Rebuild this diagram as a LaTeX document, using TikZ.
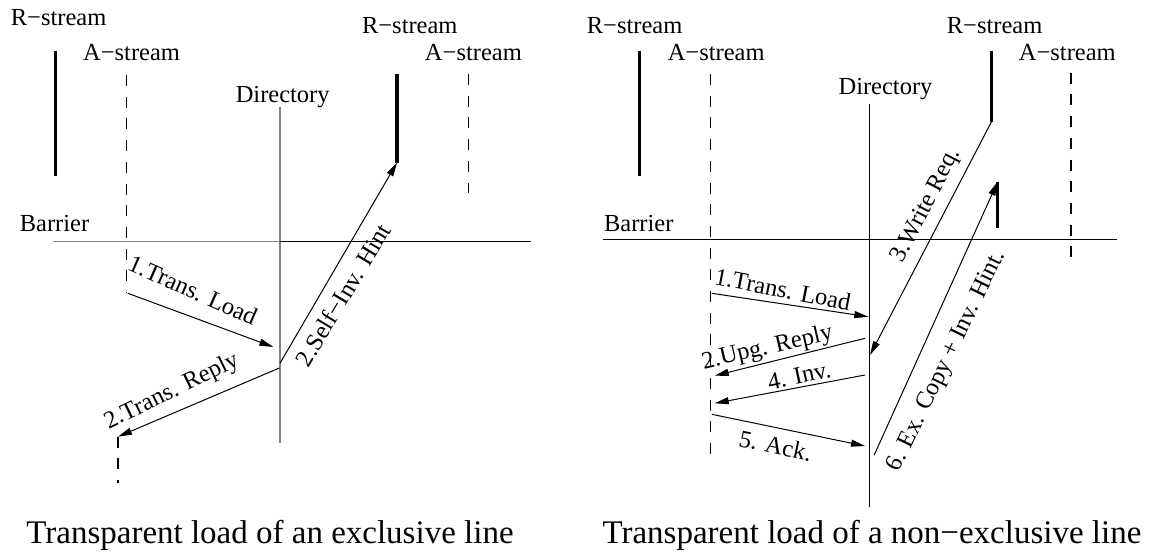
\documentclass[tikz,border=0pt]{standalone}
\usepackage{fontspec}
\setmainfont{Liberation Serif}
\usetikzlibrary{arrows.meta}
\tikzset{
  lbl/.style={font=\fontsize{24.5}{28}\selectfont, inner sep=0pt},
  captext/.style={font=\fontsize{33}{38}\selectfont, inner sep=0pt},
  life/.style={line width=1.2pt, dash pattern=on 11pt off 10.7pt},
  bar/.style={line width=3.5pt},
  msg/.style={line width=1pt, -{Triangle[length=14pt,width=7pt]}},
  dirline/.style={line width=1.2pt},
}
\begin{document}
\begin{tikzpicture}[x=1pt, y=-1pt]
\useasboundingbox (0,0) rectangle (1151,552);

% ---------------- exclusive line ----------------
\node[lbl] (lR1) at (58.6,17.5) {R−stream};
\node[lbl] (lA1) at (131.6,52.7) {A−stream};
\node[lbl] (lR2) at (409.8,26) {R−stream};
\node[lbl] (lA2) at (473.4,52.7) {A−stream};
\node[lbl] (lDir) at (282.7,97.3) {Directory};
\node[lbl] (lBar) at (54.5,223.3) {Barrier};

\coordinate (lR1top) at (55.4,50.7);
\coordinate (lR1bot) at (55.4,176);
\coordinate (lA1top) at (126.8,75);
\coordinate (lA1bot) at (126.8,293.3);
\coordinate (lA1low) at (118,436.7);
\coordinate (lA1end) at (118,483);
\coordinate (lR2top) at (397.1,74);
\coordinate (lR2bot) at (397.1,162.5);
\coordinate (lA2top) at (468.6,74);
\coordinate (lA2bot) at (468.6,192.7);
\coordinate (lDtop) at (280,106.7);
\coordinate (lDbot) at (280,443.3);
\coordinate (lBl) at (52.9,241.5);
\coordinate (lBm) at (280,241.5);
\coordinate (lBr) at (531,241.5);
\coordinate (lLoadS) at (127.9,293.3);
\coordinate (lLoadE) at (273.3,347);
\coordinate (lReplyS) at (279.3,368);
\coordinate (lHintS) at (280,363.3);

\draw[bar] (lR1top) -- (lR1bot);
\draw[bar] (lR2top) -- (lR2bot);
\draw[life] (lA1top) -- (lA1bot);
\draw[life] (lA1low) -- (lA1end);
\draw[life] (lA2top) -- (lA2bot);
\draw[dirline, gray] (lDtop) -- (lDbot);
\draw[line width=1pt, gray] (lBl) -- (lBm);
\draw[line width=1pt] (lBm) -- (lBr);

\draw[msg] (lLoadS) -- (lLoadE);
\draw[msg] (lReplyS) -- (lA1low);
\draw[msg] (lHintS) -- (lR2bot);

\node[lbl, rotate=-24] (lLoadT) at (192.9,290) {1.Trans. Load};
\node[lbl, rotate=26] (lReplyT) at (172,392) {2.Trans. Reply};
\node[lbl, rotate=59] (lHintT) at (343,295) {2.Self−Inv. Hint};

\node[captext] (lCap) at (270,535) {Transparent load of an exclusive line};

% ---------------- non-exclusive line ----------------
\node[lbl] (rR1) at (634.6,25.8) {R−stream};
\node[lbl] (rA1) at (716.2,52.7) {A−stream};
\node[lbl] (rR2) at (994.6,25.8) {R−stream};
\node[lbl] (rA2) at (1067.3,52.7) {A−stream};
\node[lbl] (rDir) at (885.5,89.2) {Directory};
\node[lbl] (rBar) at (638.8,223.3) {Barrier};

\coordinate (rR1top) at (639.4,50.7);
\coordinate (rR1bot) at (639.4,176);
\coordinate (rA1top) at (710.4,74);
\coordinate (rA1bot) at (710.4,463);
\coordinate (rR2top) at (991.5,50.7);
\coordinate (rR2bot) at (991.5,121.7);
\coordinate (rNtop) at (997.7,181.7);
\coordinate (rNbot) at (997.7,227.7);
\coordinate (rA2top) at (1070.9,72.7);
\coordinate (rA2bot) at (1070.9,265);
\coordinate (rDtop) at (869.5,104.3);
\coordinate (rDbot) at (869.5,506.7);
\coordinate (rBl) at (603,239.3);
\coordinate (rBr) at (1117,239.3);
\coordinate (rLoadS) at (711.8,293.3);
\coordinate (rLoadE) at (868.3,316.7);
\coordinate (rUpgS) at (865,338.3);
\coordinate (rUpgE) at (714.7,375.7);
\coordinate (rInvS) at (865,375);
\coordinate (rInvE) at (714.7,403.3);
\coordinate (rAckS) at (711.8,414.3);
\coordinate (rAckE) at (865,446);
\coordinate (rWrE) at (870,355);
\coordinate (rExS) at (874.2,455);

\draw[bar] (rR1top) -- (rR1bot);
\draw[bar] (rR2top) -- (rR2bot);
\draw[bar] (rNtop) -- (rNbot);
\draw[life] (rA1top) -- (rA1bot);
\draw[life] (rA2top) -- (rA2bot);
\draw[line width=1pt] (rDtop) -- (rDbot);
\draw[line width=1pt] (rBl) -- (rBr);

\draw[msg] (rLoadS) -- (rLoadE);
\draw[msg] (rUpgS) -- (rUpgE);
\draw[msg] (rInvS) -- (rInvE);
\draw[msg] (rAckS) -- (rAckE);
\draw[msg] (rR2bot) -- (rWrE);
\draw[msg] (rExS) -- (rNtop);

\node[lbl, rotate=-11] (rLoadT) at (782.8,289.3) {1.Trans. Load};
\node[lbl, rotate=13] (rUpgT) at (767.5,348.3) {2.Upg. Reply};
\node[lbl, rotate=12] (rInvT) at (799.2,375.7) {4. Inv.};
\node[lbl, rotate=-12] (rAckT) at (775.6,445.7) {5. Ack.};
\node[lbl, rotate=62.5] (rWrT) at (926.7,205.5) {3.Write Req.};
\node[lbl, rotate=64] (rExT) at (947,361.7) {6. Ex. Copy + Inv. Hint.};

\node[captext] (rCap) at (872,535) {Transparent load of a non−exclusive line};
\end{tikzpicture}
\end{document}
